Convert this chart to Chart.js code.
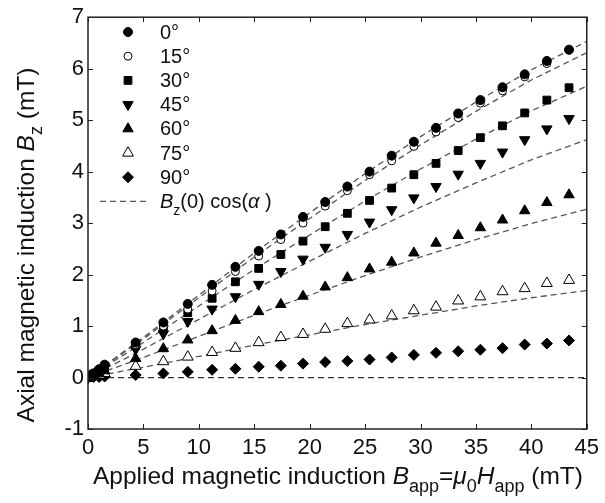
<!DOCTYPE html>
<html lang="en">
<head>
<meta charset="UTF-8">
<title>Axial magnetic induction vs applied field</title>
<script src="https://cdn.jsdelivr.net/npm/chart.js"></script>
<style>
  html, body { margin: 0; padding: 0; background: #fff; }
  canvas { display: block; }
</style>
</head>
<body>
<canvas id="chart" width="605" height="503"></canvas>
<script>
// applied field B_app (mT), shared by all measured series
const bApp = [0, 0.5, 1.0, 1.5, 4.3, 6.8, 9.0, 11.2, 13.3, 15.4, 17.4, 19.4, 21.4, 23.4,
              25.4, 27.4, 29.4, 31.4, 33.4, 35.4, 37.4, 39.4, 41.4, 43.4];

// measured Bz (mT) for each tilt angle
const bz0  = [0, 0.08, 0.16, 0.25, 0.68, 1.07, 1.43, 1.80, 2.15, 2.46, 2.78, 3.12, 3.41, 3.71,
              4.00, 4.31, 4.58, 4.85, 5.13, 5.39, 5.64, 5.89, 6.15, 6.37];
const bz15 = [0, 0.07, 0.15, 0.24, 0.64, 1.00, 1.33, 1.68, 2.06, 2.36, 2.68, 3.00, 3.33, 3.63,
              3.94, 4.21, 4.49, 4.77, 5.05, 5.33, 5.57, 5.84, 6.10, 6.36];
const bz30 = [0, 0.07, 0.14, 0.22, 0.62, 0.97, 1.26, 1.54, 1.86, 2.12, 2.39, 2.65, 2.93, 3.19,
              3.44, 3.68, 3.94, 4.16, 4.41, 4.66, 4.89, 5.14, 5.39, 5.63];
const bz45 = [0, 0.06, 0.12, 0.19, 0.55, 0.85, 1.09, 1.33, 1.57, 1.81, 2.06, 2.30, 2.53, 2.78,
              3.02, 3.26, 3.49, 3.71, 3.95, 4.16, 4.38, 4.62, 4.83, 5.03];
const bz60 = [0, 0.04, 0.08, 0.13, 0.37, 0.56, 0.73, 0.91, 1.11, 1.28, 1.42, 1.58, 1.76, 1.94,
              2.11, 2.24, 2.42, 2.61, 2.76, 2.91, 3.06, 3.24, 3.40, 3.55];
const bz75 = [0, 0.03, 0.05, 0.08, 0.22, 0.31, 0.40, 0.49, 0.57, 0.68, 0.78, 0.84, 0.94, 1.05,
              1.12, 1.20, 1.30, 1.37, 1.49, 1.57, 1.67, 1.73, 1.83, 1.89];
const bz90 = [0, 0.01, 0.01, 0.02, 0.05, 0.08, 0.11, 0.15, 0.17, 0.21, 0.23, 0.27, 0.30, 0.32,
              0.35, 0.39, 0.44, 0.48, 0.51, 0.54, 0.57, 0.64, 0.66, 0.72];

// dashed reference curves Bz(0)cos(alpha)
const fitX   = [0, 5, 10, 15, 20, 25, 30, 35, 40, 45];
const fit0   = [0, 0.78, 1.60, 2.42, 3.20, 3.96, 4.68, 5.35, 5.98, 6.53];
const fit15  = [0, 0.75, 1.55, 2.34, 3.09, 3.83, 4.52, 5.17, 5.78, 6.31];
const fit30  = [0, 0.68, 1.39, 2.10, 2.77, 3.43, 4.05, 4.63, 5.18, 5.66];
const fit45  = [0, 0.55, 1.13, 1.71, 2.26, 2.80, 3.31, 3.78, 4.23, 4.62];
const fit60  = [0, 0.39, 0.80, 1.21, 1.60, 1.98, 2.34, 2.68, 2.99, 3.27];
const fit75  = [0, 0.20, 0.41, 0.63, 0.83, 1.03, 1.21, 1.39, 1.55, 1.69];
const fit90  = [0, 0, 0, 0, 0, 0, 0, 0, 0, 0];

const angleLabels = ['0°', '15°', '30°', '45°', '60°', '75°', '90°'];
const xTicks = [0, 5, 10, 15, 20, 25, 30, 35, 40, 45];
const yTicks = [-1, 0, 1, 2, 3, 4, 5, 6, 7];

const FONT = '"Liberation Sans", Arial, sans-serif';
const INK = '#111';

const pts = (xs, ys) => xs.map((x, i) => ({ x: x, y: ys[i] }));

const markers = [
    { style: 'circle',   radius: 4.5, rot: 0,   fill: '#000' },
    { style: 'circle',   radius: 4,   rot: 0,   fill: '#fff' },
    { style: 'rect',     radius: 5.5, rot: 0,   fill: '#000' },
    { style: 'triangle', radius: 6,   rot: 180, fill: '#000' },
    { style: 'triangle', radius: 6,   rot: 0,   fill: '#000' },
    { style: 'triangle', radius: 6.3, rot: 0,   fill: '#fff' },
    { style: 'rectRot',  radius: 5.5, rot: 0,   fill: '#000' }
];
const measured = [bz0, bz15, bz30, bz45, bz60, bz75, bz90];
const fits = [fit0, fit15, fit30, fit45, fit60, fit75, fit90];

const datasets = [];
fits.forEach((f, i) => {
    datasets.push({
        type: 'line',
        label: 'fit ' + angleLabels[i],
        data: pts(fitX, f),
        borderColor: i === 6 ? '#333' : '#555',
        borderWidth: 1.3,
        borderDash: [6, 4],
        pointRadius: 0,
        fill: false,
        tension: 0,
        order: 2
    });
});
measured.forEach((ys, i) => {
    const m = markers[i];
    datasets.push({
        type: 'scatter',
        label: angleLabels[i],
        data: pts(bApp, ys),
        pointStyle: m.style,
        pointRadius: m.radius,
        pointRotation: m.rot,
        pointBackgroundColor: m.fill,
        pointBorderColor: '#000',
        pointBorderWidth: 1,
        order: 1
    });
});

// draw a line of mixed text: [text, kind] with kind '', 'i' (italic) or 's' (subscript)
function partFont(kind, size) {
    if (kind === 'i') return 'italic ' + size + 'px ' + FONT;
    if (kind === 's') return Math.round(size * 0.72) + 'px ' + FONT;
    return size + 'px ' + FONT;
}
function richWidth(ctx, parts, size) {
    let w = 0;
    parts.forEach(p => {
        ctx.font = partFont(p[1], size);
        w += ctx.measureText(p[0]).width;
    });
    return w;
}
function drawRich(ctx, parts, x, y, size) {
    let cx = x;
    parts.forEach(p => {
        ctx.font = partFont(p[1], size);
        const dy = p[1] === 's' ? size * 0.32 : 0;
        ctx.fillText(p[0], cx, y + dy);
        cx += ctx.measureText(p[0]).width;
    });
}

const framePlugin = {
    id: 'frame',
    afterDraw(chart) {
        const ctx = chart.ctx;
        const a = chart.chartArea;
        const xs = chart.scales.x, ys = chart.scales.y;
        ctx.save();
        // box
        ctx.strokeStyle = '#222';
        ctx.lineWidth = 1.5;
        ctx.strokeRect(a.left, a.top, a.right - a.left, a.bottom - a.top);
        // inward ticks on all four sides
        ctx.lineWidth = 1;
        ctx.beginPath();
        xTicks.forEach(v => {
            const px = Math.round(xs.getPixelForValue(v)) + 0.5;
            ctx.moveTo(px, a.bottom); ctx.lineTo(px, a.bottom - 5);
            ctx.moveTo(px, a.top); ctx.lineTo(px, a.top + 5);
        });
        yTicks.forEach(v => {
            const py = Math.round(ys.getPixelForValue(v)) + 0.5;
            ctx.moveTo(a.left, py); ctx.lineTo(a.left + 5, py);
            ctx.moveTo(a.right, py); ctx.lineTo(a.right - 5, py);
        });
        ctx.stroke();

        ctx.fillStyle = INK;
        ctx.textBaseline = 'alphabetic';
        ctx.textAlign = 'left';

        // x title
        const xParts = [['Applied magnetic induction ', ''], ['B', 'i'], ['app', 's'], ['=', ''],
                        ['\u03bc', 'i'], ['0', 's'], ['H', 'i'], ['app', 's'], [' (mT)', '']];
        const xw = richWidth(ctx, xParts, 24.5);
        drawRich(ctx, xParts, 338 - xw / 2, 484, 24.5);

        // y title
        const yParts = [['Axial magnetic induction ', ''], ['B', 'i'], ['z', 's'], [' (mT)', '']];
        const yw = richWidth(ctx, yParts, 24.5);
        ctx.save();
        ctx.translate(34, 245);
        ctx.rotate(-Math.PI / 2);
        drawRich(ctx, yParts, -yw / 2, 0, 24.5);
        ctx.restore();

        // legend inside the plot
        const lx = 128, tx = 160, ly0 = 32, step = 24.2;
        markers.forEach((m, i) => {
            const y = ly0 + i * step;
            ctx.fillStyle = m.fill;
            ctx.strokeStyle = '#000';
            ctx.lineWidth = 1;
            Chart.helpers.drawPoint(ctx, { pointStyle: m.style, radius: m.radius, rotation: m.rot, borderWidth: 1 }, lx, y);
            ctx.fillStyle = INK;
            ctx.font = '20px ' + FONT;
            ctx.textBaseline = 'middle';
            ctx.fillText(angleLabels[i], tx, y + 1);
        });
        const yd = ly0 + 7 * step;
        ctx.strokeStyle = '#555';
        ctx.lineWidth = 1.3;
        ctx.setLineDash([6, 4]);
        ctx.beginPath();
        ctx.moveTo(100, yd); ctx.lineTo(150, yd);
        ctx.stroke();
        ctx.setLineDash([]);
        ctx.textBaseline = 'alphabetic';
        ctx.fillStyle = INK;
        drawRich(ctx, [['B', 'i'], ['z', 's'], ['(0) cos(', ''], ['\u03b1', 'i'], [' )', '']], tx, yd + 7, 20);
        ctx.restore();
    }
};

new Chart(document.getElementById('chart').getContext('2d'), {
    type: 'scatter',
    data: { datasets: datasets },
    options: {
        responsive: false,
        animation: false,
        layout: { padding: { top: 15, right: 13, left: 0, bottom: 0 } },
        plugins: { legend: { display: false }, tooltip: { enabled: false } },
        scales: {
            x: {
                type: 'linear',
                min: 0, max: 45,
                afterFit: s => { s.height = 74; },
                afterBuildTicks: s => { s.ticks = xTicks.map(v => ({ value: v })); },
                grid: { display: false, drawTicks: false },
                border: { display: false },
                ticks: { color: INK, font: { family: FONT, size: 22 }, padding: 6, autoSkip: false, maxRotation: 0 }
            },
            y: {
                type: 'linear',
                min: -1, max: 7,
                afterFit: s => { s.width = 88; },
                afterBuildTicks: s => { s.ticks = yTicks.map(v => ({ value: v })); },
                grid: { display: false, drawTicks: false },
                border: { display: false },
                ticks: { color: INK, font: { family: FONT, size: 22 }, padding: 4, autoSkip: false }
            }
        }
    },
    plugins: [framePlugin]
});
</script>
</body>
</html>
